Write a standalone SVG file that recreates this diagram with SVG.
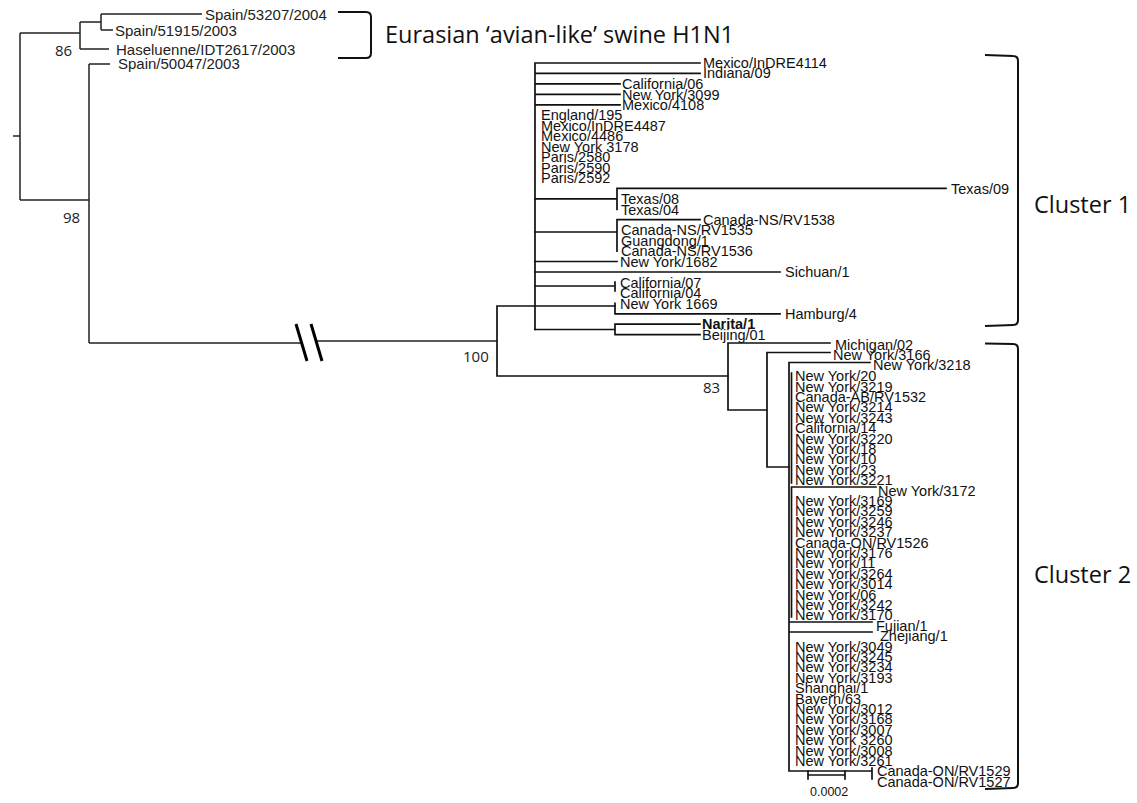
<svg xmlns="http://www.w3.org/2000/svg" width="1137" height="803" viewBox="0 0 1137 803">
<style>
.br{stroke:#111;stroke-width:1.7;fill:none;stroke-linecap:square}
.bt{stroke:#222;stroke-width:1.5;fill:none}
.brk{stroke:#111;stroke-width:2;fill:none}
.brk3{stroke:#000;stroke-width:3;fill:none}
.tl{font-family:"Liberation Sans",Arial,sans-serif;font-size:15px;fill:#222}
.lb{font-family:"Liberation Sans",Arial,sans-serif;font-size:14.5px;fill:#111}
.sup{font-family:"Open Sans","Liberation Sans",sans-serif;font-size:15px;fill:#222}
.big{font-family:"Open Sans","Liberation Sans",sans-serif;font-size:23.5px;fill:#111}
.sc{font-family:"Liberation Sans",Arial,sans-serif;font-size:12.5px;fill:#111}
</style>
<rect width="1137" height="803" fill="#fff"/>
<g id="connectors">
<path class="bt" d="M13,136H20M20,33V200M20,33H80M80,22V49M80,22H101M101,14V30M101,14H202M101,30H113M80,49H109M20,200H89M89,64V343M89,64H110"/>
<path class="bt" d="M89,343H302M316,341H497"/>
<path class="brk3" d="M296,324L307,361M311,324L322,361"/>
<path class="br" d="M497,306V376M497,306H615M497,376H728"/>
<path class="br" d="M535,63V329.5M535,63H700M535,73.4H700M535,83.9H620M535,94.3H620M535,104.8H620"/>
<path class="br" d="M535,198.8H617M617,188.4V209.3M617,188.4H946"/>
<path class="br" d="M535,232H617M617,219.7V251.1M617,219.7H700"/>
<path class="br" d="M535,261.5H617M535,272H780"/>
<path class="br" d="M535,286H615M615,282V291"/>
<path class="br" d="M615,303.3V313.8M615,313.8H780"/>
<path class="br" d="M535,329.5H615M615,324.2V334.7M615,324.2H700M615,334.7H700"/>
<path class="br" d="M728,343V410M728,343H830M728,410H767M767,352.5V467M767,352.5H830M767,467H789"/>
<path class="br" d="M789,362.5V771M789,362.5H870M791.5,373V483M791.5,487V617M791.5,487H876M789,622H872M789,632H872M789,771H872M872,768V779"/>
<path class="br" d="M808,775H845M808,771V779M845,771V779"/>
</g>
<g id="brackets">
<path class="brk" d="M338,12H366Q371,12 371,17V53Q371,58 366,58H338"/>
<path class="brk" d="M985,55L1013,56Q1018,56 1018,61V320Q1018,325 1013,325L985,326"/>
<path class="brk" d="M985,343.5L1013,344Q1018,344 1018,349V783Q1018,788 1013,788L985,789"/>
</g>
<g id="outgroup-labels">
<g id="n-spain53207"><text class="tl" x="205" y="19.5">Spain/53207/2004</text></g>
<g id="n-spain51915"><text class="tl" x="115" y="35.5">Spain/51915/2003</text></g>
<g id="n-haseluenne"><text class="tl" x="116" y="54.5">Haseluenne/IDT2617/2003</text></g>
<g id="n-spain50047"><text class="tl" x="118" y="69">Spain/50047/2003</text></g>
</g>
<g id="support">
<text class="sup" x="55" y="56">86</text>
<text class="sup" x="63" y="223">98</text>
<text class="sup" x="463" y="362">100</text>
<text class="sup" x="703" y="393">83</text>
</g>
<g id="group-labels">
<text class="big" x="385" y="43">Eurasian ‘avian-like’ swine H1N1</text>
<text class="big" x="1034" y="213">Cluster 1</text>
<text class="big" x="1034" y="583">Cluster 2</text>
</g>
<g id="cluster1">
<g id="n-mexInDRE4114"><text class="lb" x="703" y="68">Mexico/InDRE4114</text></g>
<g id="n-indiana09"><text class="lb" x="703" y="78.4">Indiana/09</text></g>
<g id="n-california06"><text class="lb" x="622" y="89">California/06</text></g>
<g id="n-ny3099"><text class="lb" x="622" y="99.5">New York/3099</text></g>
<g id="n-mex4108"><text class="lb" x="622" y="110">Mexico/4108</text></g>
<g id="n-england195"><text class="lb" x="541" y="120.4">England/195</text></g>
<g id="n-mexInDRE4487"><text class="lb" x="541" y="130.9">Mexico/InDRE4487</text></g>
<g id="n-mex4486"><text class="lb" x="541" y="141.3">Mexico/4486</text></g>
<g id="n-ny3178"><text class="lb" x="541" y="151.8">New York 3178</text></g>
<g id="n-paris2580"><text class="lb" x="541" y="162.2">Paris/2580</text></g>
<g id="n-paris2590"><text class="lb" x="541" y="172.7">Paris/2590</text></g>
<g id="n-paris2592"><text class="lb" x="541" y="183.1">Paris/2592</text></g>
<g id="n-texas09"><text class="lb" x="951" y="193.6">Texas/09</text></g>
<g id="n-texas08"><text class="lb" x="621" y="204">Texas/08</text></g>
<g id="n-texas04"><text class="lb" x="621" y="214.5">Texas/04</text></g>
<g id="n-rv1538"><text class="lb" x="703" y="224.9">Canada-NS/RV1538</text></g>
<g id="n-rv1535"><text class="lb" x="621" y="235.4">Canada-NS/RV1535</text></g>
<g id="n-guangdong1"><text class="lb" x="621" y="245.8">Guangdong/1</text></g>
<g id="n-rv1536"><text class="lb" x="621" y="256.3">Canada-NS/RV1536</text></g>
<g id="n-ny1682"><text class="lb" x="620" y="266.7">New York/1682</text></g>
<g id="n-sichuan1"><text class="lb" x="785" y="277.2">Sichuan/1</text></g>
<g id="n-california07"><text class="lb" x="620" y="287.6">California/07</text></g>
<g id="n-california04"><text class="lb" x="620" y="298.1">California/04</text></g>
<g id="n-ny1669"><text class="lb" x="620" y="308.5">New York 1669</text></g>
<g id="n-hamburg4"><text class="lb" x="785" y="319">Hamburg/4</text></g>
<g id="n-narita1"><text class="lb" x="702" y="329.4" font-weight="bold">Narita/1</text></g>
<g id="n-beijing01"><text class="lb" x="702" y="339.9">Beijing/01</text></g>
</g>
<g id="cluster2">
<g id="n-michigan02"><text class="lb" x="835" y="350">Michigan/02</text></g>
<g id="n-ny3166"><text class="lb" x="833" y="360">New York/3166</text></g>
<g id="n-ny3218"><text class="lb" x="873" y="370.4">New York/3218</text></g>
<g id="n-ny20"><text class="lb" x="795" y="381.2">New York/20</text></g>
<g id="n-ny3219"><text class="lb" x="795" y="391.6">New York/3219</text></g>
<g id="n-rv1532"><text class="lb" x="795" y="402">Canada-AB/RV1532</text></g>
<g id="n-ny3214"><text class="lb" x="795" y="412.4">New York/3214</text></g>
<g id="n-ny3243"><text class="lb" x="795" y="422.8">New York/3243</text></g>
<g id="n-california14"><text class="lb" x="795" y="433.2">California/14</text></g>
<g id="n-ny3220"><text class="lb" x="795" y="443.6">New York/3220</text></g>
<g id="n-ny18"><text class="lb" x="795" y="454">New York/18</text></g>
<g id="n-ny10"><text class="lb" x="795" y="464.4">New York/10</text></g>
<g id="n-ny23"><text class="lb" x="795" y="474.8">New York/23</text></g>
<g id="n-ny3221"><text class="lb" x="795" y="485.2">New York/3221</text></g>
<g id="n-ny3172"><text class="lb" x="878" y="495.6">New York/3172</text></g>
<g id="n-ny3169"><text class="lb" x="795" y="506">New York/3169</text></g>
<g id="n-ny3259"><text class="lb" x="795" y="516.4">New York/3259</text></g>
<g id="n-ny3246"><text class="lb" x="795" y="526.8">New York/3246</text></g>
<g id="n-ny3237"><text class="lb" x="795" y="537.2">New York/3237</text></g>
<g id="n-rv1526"><text class="lb" x="795" y="547.6">Canada-ON/RV1526</text></g>
<g id="n-ny3176"><text class="lb" x="795" y="558">New York/3176</text></g>
<g id="n-ny11"><text class="lb" x="795" y="568.4">New York/11</text></g>
<g id="n-ny3264"><text class="lb" x="795" y="578.8">New York/3264</text></g>
<g id="n-ny3014"><text class="lb" x="795" y="589.2">New York/3014</text></g>
<g id="n-ny06"><text class="lb" x="795" y="599.6">New York/06</text></g>
<g id="n-ny3242"><text class="lb" x="795" y="610">New York/3242</text></g>
<g id="n-ny3170"><text class="lb" x="795" y="620.4">New York/3170</text></g>
<g id="n-fujian1"><text class="lb" x="876" y="630.8">Fujian/1</text></g>
<g id="n-zhejiang1"><text class="lb" x="880" y="641.2">Zhejiang/1</text></g>
<g id="n-ny3049"><text class="lb" x="795" y="651.6">New York/3049</text></g>
<g id="n-ny3245"><text class="lb" x="795" y="662">New York/3245</text></g>
<g id="n-ny3234"><text class="lb" x="795" y="672.4">New York/3234</text></g>
<g id="n-ny3193"><text class="lb" x="795" y="682.8">New York/3193</text></g>
<g id="n-shanghai1"><text class="lb" x="795" y="693.2">Shanghai/1</text></g>
<g id="n-bayern63"><text class="lb" x="795" y="703.6">Bayern/63</text></g>
<g id="n-ny3012"><text class="lb" x="795" y="714">New York/3012</text></g>
<g id="n-ny3168"><text class="lb" x="795" y="724.4">New York/3168</text></g>
<g id="n-ny3007"><text class="lb" x="795" y="734.8">New York/3007</text></g>
<g id="n-ny3260"><text class="lb" x="795" y="745.2">New York 3260</text></g>
<g id="n-ny3008"><text class="lb" x="795" y="755.6">New York/3008</text></g>
<g id="n-ny3261"><text class="lb" x="795" y="766">New York/3261</text></g>
<g id="n-rv1529"><text class="lb" x="877" y="776.4">Canada-ON/RV1529</text></g>
<g id="n-rv1527"><text class="lb" x="877" y="786.8">Canada-ON/RV1527</text></g>
</g>
<g id="scale"><text class="sc" x="810" y="796">0.0002</text></g>
</svg>
